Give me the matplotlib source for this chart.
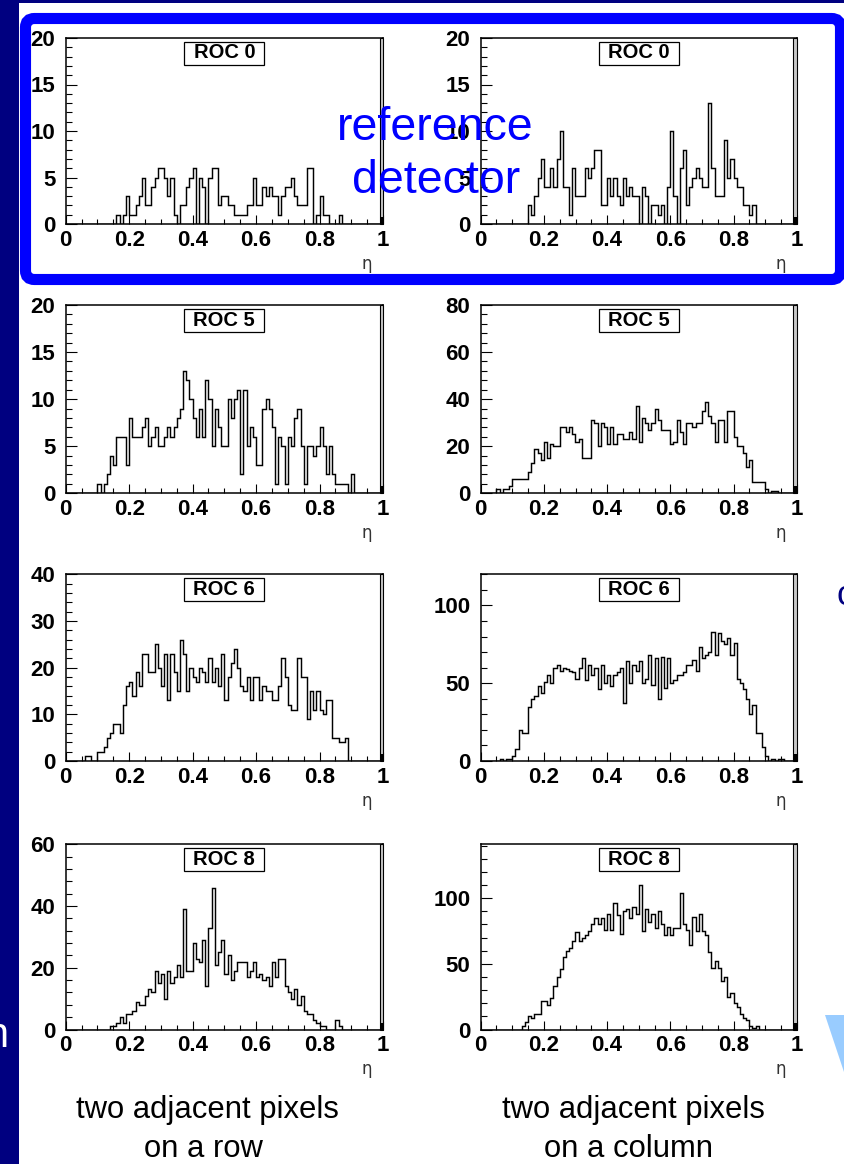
import numpy as np
import matplotlib
matplotlib.use("Agg")
import matplotlib.pyplot as plt
from matplotlib.patches import Rectangle, FancyBboxPatch, Polygon
from matplotlib.ticker import MultipleLocator, FuncFormatter
from matplotlib.transforms import Affine2D

plt.rcParams['font.family'] = ['Liberation Sans', 'DejaVu Sans']

W, H, DPI = 845, 1164, 100
NAVY = '#000080'
BLUE = '#0000FF'

# eta histograms, 100 bins of 0.01; each list starts at bin index *_start
eta_edges = np.linspace(0, 1, 101)

roc0_row_start = 16
roc0_row = [1, 0, 1, 3, 1, 1, 2, 3, 5, 2,
            2, 4, 5, 6, 6, 5, 3, 5, 1, 0,
            2, 2, 4, 5, 6, 0, 5, 4, 0, 5,
            6, 6, 2, 3, 3, 2, 2, 1, 1, 1,
            1, 2, 2, 5, 2, 2, 4, 3, 4, 3,
            3, 1, 3, 4, 4, 5, 3, 2, 2, 2,
            6, 6, 0, 1, 3, 1, 1, 0, 0, 0, 1]

roc0_col_start = 15
roc0_col = [2, 1, 3, 5, 7, 4, 4, 6, 4, 7,
            10, 4, 4, 1, 6, 3, 3, 3, 6, 5,
            6, 8, 8, 2, 2, 5, 3, 5, 3, 2,
            5, 3, 4, 3, 3, 0, 4, 3, 0, 2,
            2, 1, 2, 0, 4, 10, 3, 0, 6, 8,
            2, 4, 5, 6, 5, 4, 4, 13, 6, 3,
            3, 3, 9, 5, 7, 5, 4, 4, 2, 2, 1, 2]

roc5_row_start = 10
roc5_row = [1, 0, 1, 2, 4, 3, 6, 6, 6, 3,
            8, 6, 6, 6, 7, 8, 5, 6, 7, 5,
            5, 6, 7, 6, 7, 8, 9, 13, 12, 10,
            8, 6, 9, 6, 12, 10, 5, 9, 7, 5,
            5, 10, 8, 10, 11, 2, 11, 5, 7, 6,
            3, 3, 9, 10, 9, 7, 1, 6, 5, 1,
            6, 5, 8, 9, 5, 1, 5, 5, 4, 5,
            7, 5, 2, 5, 2, 1, 1, 1, 1, 0, 2]

roc5_col_start = 5
roc5_col = [2, 0, 2, 2, 3, 6, 6, 6, 6, 6,
            9, 13, 19, 17, 14, 22, 15, 21, 20, 20,
            28, 28, 26, 28, 25, 22, 23, 15, 15, 15,
            31, 30, 20, 30, 28, 21, 28, 21, 25, 25,
            23, 23, 26, 23, 37, 22, 32, 30, 27, 30,
            36, 31, 27, 27, 27, 21, 22, 31, 26, 21,
            30, 30, 28, 30, 30, 35, 39, 33, 30, 22,
            31, 31, 22, 35, 35, 24, 20, 20, 17, 11,
            14, 5, 5, 5, 5, 2, 0, 1, 1]

roc6_row_start = 6
roc6_row = [1, 1, 0, 0, 2, 2, 3, 5, 6, 8, 8, 6,
            12, 16, 17, 14, 19, 16, 23, 23, 19, 19,
            25, 20, 16, 23, 13, 23, 19, 15, 26, 23,
            15, 20, 18, 17, 20, 19, 17, 22, 17, 20,
            16, 23, 13, 18, 21, 24, 20, 16, 15, 18,
            13, 18, 18, 13, 16, 15, 15, 13, 13, 16,
            22, 18, 12, 11, 11, 22, 18, 18, 9, 15,
            11, 15, 11, 10, 13, 13, 5, 5, 4, 4, 5]

roc6_col_start = 6
roc6_col = [1, 0, 1, 1, 3, 8, 20, 18, 18, 35,
            40, 42, 48, 44, 51, 55, 50, 60, 62, 58,
            60, 59, 58, 57, 53, 60, 66, 52, 62, 55,
            60, 46, 62, 50, 55, 48, 55, 57, 60, 37,
            64, 50, 62, 58, 64, 50, 53, 68, 49, 66,
            40, 67, 47, 66, 50, 52, 55, 55, 57, 62,
            62, 65, 58, 73, 66, 68, 70, 83, 68, 82,
            77, 75, 79, 68, 76, 53, 50, 46, 40, 30,
            36, 18, 18, 9, 3, 0, 1, 0, 1, 1]

roc8_row_start = 14
roc8_row = [1, 1, 2, 4, 2, 5, 5, 6, 9, 8,
            8, 11, 13, 12, 19, 15, 18, 10, 19, 15,
            17, 21, 17, 39, 19, 19, 28, 23, 22, 29,
            14, 33, 46, 21, 25, 29, 18, 24, 16, 19,
            22, 22, 22, 17, 19, 22, 17, 18, 16, 17,
            14, 22, 17, 23, 23, 14, 12, 10, 13, 8,
            11, 6, 5, 5, 3, 2, 1, 1, 0, 0,
            0, 3, 1]

roc8_col_start = 13
roc8_col = [3, 6, 10, 9, 12, 12, 22, 22, 19, 24,
            33, 40, 46, 55, 60, 62, 67, 74, 67, 70,
            72, 75, 80, 85, 80, 85, 76, 88, 76, 96,
            87, 73, 90, 92, 85, 93, 88, 110, 75, 92,
            82, 88, 77, 90, 80, 72, 78, 72, 77, 77,
            104, 80, 76, 64, 86, 75, 88, 75, 72, 59,
            47, 52, 47, 37, 40, 25, 28, 20, 17, 12,
            9, 7, 3, 1, 3]

titles = ["ROC 0", "ROC 5", "ROC 6", "ROC 8"]
y_max = [(20, 20), (20, 80), (40, 120), (60, 141)]
y_major = [(5, 5), (5, 20), (10, 50), (20, 50)]
y_minor = [(1, 1), (1, 4), (2, 10), (4, 10)]

hists = [[(roc0_row_start, roc0_row), (roc0_col_start, roc0_col)],
         [(roc5_row_start, roc5_row), (roc5_col_start, roc5_col)],
         [(roc6_row_start, roc6_row), (roc6_col_start, roc6_col)],
         [(roc8_row_start, roc8_row), (roc8_col_start, roc8_col)]]

fig = plt.figure(figsize=(W / DPI, H / DPI), dpi=DPI, facecolor='white')
# pixel coordinates measured from the top-left corner of the slide
px = Affine2D().scale(1 / DPI, -1 / DPI).translate(0, H / DPI) + fig.dpi_scale_trans

# slide background
fig.add_artist(Rectangle((0, 0), 19, H, transform=px, fc=NAVY, ec='none', zorder=0))
fig.add_artist(Rectangle((0, 0), W, 3, transform=px, fc=NAVY, ec='none', zorder=0))
fig.add_artist(FancyBboxPatch((25.5, 18.5), 815, 261, transform=px,
                              boxstyle='round,pad=0,rounding_size=9',
                              fc='none', ec=BLUE, lw=8, zorder=1))

col_x = [(65.7, 383.0), (480.7, 796.7)]
row_y = [(38, 224), (305, 493.3), (574.3, 761), (844.3, 1029.5)]

for r in range(4):
    for c in range(2):
        x0, x1 = col_x[c]
        y0, y1 = row_y[r]
        ax = fig.add_axes([x0 / W, 1 - y1 / H, (x1 - x0) / W, (y1 - y0) / H])
        start, vals = hists[r][c]
        counts = np.zeros(100)
        counts[start:start + len(vals)] = vals
        ymax = y_max[r][c]
        ax.stairs(counts, eta_edges, baseline=0, color='black', lw=1.05)
        ax.set_xlim(0, 1)
        ax.set_ylim(0, ymax)

        # ROOT-style right edge: last bin drawn as a thin shaded column
        ax.add_patch(Rectangle((0.989, 0), 0.011, ymax, fc='#c8c8c8', ec='black',
                               lw=0.8, clip_on=False, zorder=3))
        ax.add_patch(Rectangle((0.989, 0), 0.011, ymax * 0.037, fc='black',
                               ec='none', clip_on=False, zorder=3))

        ax.xaxis.set_major_locator(MultipleLocator(0.2))
        ax.xaxis.set_minor_locator(MultipleLocator(0.05))
        ax.yaxis.set_major_locator(MultipleLocator(y_major[r][c]))
        ax.yaxis.set_minor_locator(MultipleLocator(y_minor[r][c]))
        ax.xaxis.set_major_formatter(FuncFormatter(lambda v, p: '%g' % round(v, 2)))
        ax.yaxis.set_major_formatter(FuncFormatter(lambda v, p: '%g' % v))
        ax.tick_params(which='both', direction='in', top=False, right=False, width=0.8)
        ax.tick_params(axis='y', which='major', length=8, pad=7.5)
        ax.tick_params(axis='y', which='minor', length=4)
        ax.tick_params(axis='x', which='major', length=6.5, pad=4)
        ax.tick_params(axis='x', which='minor', length=3.5)
        for lab in ax.get_xticklabels() + ax.get_yticklabels():
            lab.set_fontsize(16)
            lab.set_fontweight('bold')
        for sp in ax.spines.values():
            sp.set_linewidth(1.1)

        axw, axh = x1 - x0, y1 - y0
        ax.add_patch(Rectangle((0.5 - 40 / axw, 1 - 26.5 / axh), 80 / axw, 23 / axh,
                               transform=ax.transAxes, fc='white', ec='black',
                               lw=0.9, zorder=4))
        ax.text(0.5, 1 - 15 / axh, titles[r], transform=ax.transAxes,
                ha='center', va='center', fontsize=14.5, fontweight='bold', zorder=5)
        ax.text(1 - 16 / axw, -40 / axh, 'η', transform=ax.transAxes,
                ha='center', va='center', fontsize=12, color='#333333',
                family='DejaVu Sans')

fig.text(435, 140, 'reference', transform=px, ha='center', va='baseline',
         color=BLUE, fontsize=33.5)
fig.text(436, 193, 'detector', transform=px, ha='center', va='baseline',
         color=BLUE, fontsize=33.5)

fig.text(207, 1118, 'two adjacent pixels', transform=px, ha='center', va='baseline',
         fontsize=22.3)
fig.text(203, 1157, 'on a row', transform=px, ha='center', va='baseline',
         fontsize=22.3)
fig.text(633, 1118, 'two adjacent pixels', transform=px, ha='center', va='baseline',
         fontsize=22.3)
fig.text(629, 1157, 'on a column', transform=px, ha='center', va='baseline',
         fontsize=22.3)

# fragments of slide content cut off at the edges
fig.text(8, 1047, 'n', transform=px, ha='right', va='baseline', color='white',
         fontsize=30)
fig.text(837, 605, 'c', transform=px, ha='left', va='baseline', color=NAVY,
         fontsize=25)
fig.add_artist(Polygon([(825, 1015), (845, 1015), (845, 1075)], closed=True,
                       transform=px, fc='#99CCFF', ec='none', zorder=1))

fig.savefig('out.png', dpi=DPI, facecolor='white')
